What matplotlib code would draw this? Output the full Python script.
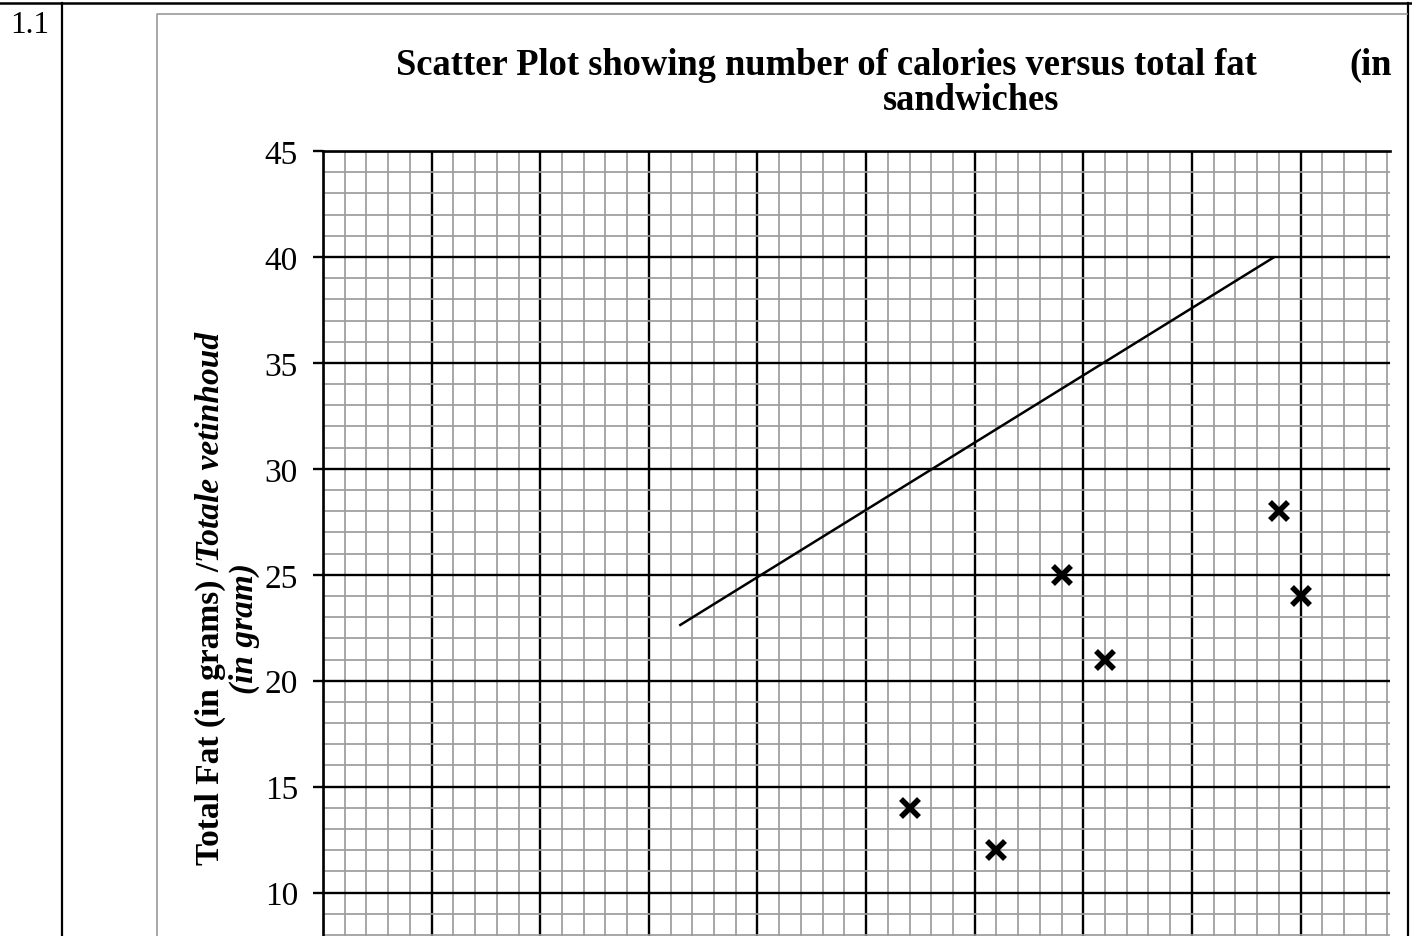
import matplotlib
matplotlib.use('Agg')
import matplotlib.pyplot as plt
from matplotlib.ticker import MultipleLocator
from matplotlib.lines import Line2D

# ---- data ----
calories = [370, 410, 440, 460, 540, 550]
total_fat = [14, 12, 25, 21, 28, 24]
trend_x = [264, 538]
trend_y = [22.6, 40.0]
y_ticks = [10, 15, 20, 25, 30, 35, 40, 45]

question = "1.1"
title_main = "Scatter Plot showing number of calories versus total fat"
title_tail = "(in"
title_line2 = "sandwiches"
ylabel_upright = "Total Fat (in grams) /"
ylabel_italic = "Totale vetinhoud"
ylabel_line2 = "(in gram)"

W, H = 1412, 937
fig = plt.figure(figsize=(W / 100, H / 100), dpi=100)
serif = 'Liberation Serif'


def fx(x):
    return x / W


def fy(y):
    return 1 - y / H


# ---- table borders ----
fig.add_artist(Line2D([0, 1], [fy(4)] * 2, color='black', lw=1.8))
fig.add_artist(Line2D([fx(62)] * 2, [fy(4), 0], color='black', lw=1.6))
fig.add_artist(Line2D([fx(1408)] * 2, [fy(4), 0], color='black', lw=1.6))
# chart area border (grey)
fig.add_artist(Line2D([fx(157), fx(157), fx(1407)], [0, fy(15), fy(15)],
                      color='#9a9a9a', lw=1.2))

# ---- axes ----
ax = fig.add_axes([fx(323), 0, fx(1390) - fx(323), fy(152)])
ax.set_xlim(100, 591.2)
ax.set_ylim(7.95, 45)
ax.xaxis.set_major_locator(MultipleLocator(50))
ax.xaxis.set_minor_locator(MultipleLocator(10))
ax.set_yticks(y_ticks)
ax.yaxis.set_minor_locator(MultipleLocator(1))
ax.set_axisbelow(True)
ax.grid(which='minor', color='#9c9c9c', lw=1.25)
ax.grid(which='major', color='black', lw=1.7)
for s in ['right', 'bottom']:
    ax.spines[s].set_visible(False)
for s in ['left', 'top']:
    ax.spines[s].set_linewidth(1.9)
ax.tick_params(axis='x', which='both', length=0, labelbottom=False)
ax.tick_params(axis='y', which='major', length=7, width=1.7, pad=11,
               labelsize=24)
ax.tick_params(axis='y', which='minor', length=0)
for lbl in ax.get_yticklabels():
    lbl.set_fontfamily(serif)

ax.plot(trend_x, trend_y, color='black', lw=1.8, solid_capstyle='butt',
        zorder=4)
ax.plot(calories, total_fat, linestyle='none', marker='x', ms=13, mew=4.0,
        color='black', zorder=5, clip_on=False)

# ---- texts ----
fig.text(fx(10), fy(33), question, fontsize=22.5, family=serif,
         ha='left', va='baseline')
fig.text(fx(396), fy(75), title_main, fontsize=26.3, fontweight='bold',
         family=serif, ha='left', va='baseline')
fig.text(fx(1392), fy(75), title_tail, fontsize=26.3, fontweight='bold',
         family=serif, ha='right', va='baseline')
fig.text(fx(971), fy(110), title_line2, fontsize=26.3, fontweight='bold',
         family=serif, ha='center', va='baseline')

t1 = fig.text(fx(219), fy(865), ylabel_upright, rotation=90,
              rotation_mode='anchor', ha='left', va='baseline', fontsize=24,
              fontweight='bold', family=serif)
fig.canvas.draw()
bb = t1.get_window_extent(renderer=fig.canvas.get_renderer())
fig.text(fx(219), bb.y1 / H, ylabel_italic, rotation=90,
         rotation_mode='anchor', ha='left', va='baseline', fontsize=24,
         fontweight='bold', fontstyle='italic', family=serif)
fig.text(fx(253), fy(629), ylabel_line2, rotation=90, rotation_mode='anchor',
         ha='center', va='baseline', fontsize=24, fontweight='bold',
         fontstyle='italic', family=serif)

fig.savefig('out.png', dpi=100)
